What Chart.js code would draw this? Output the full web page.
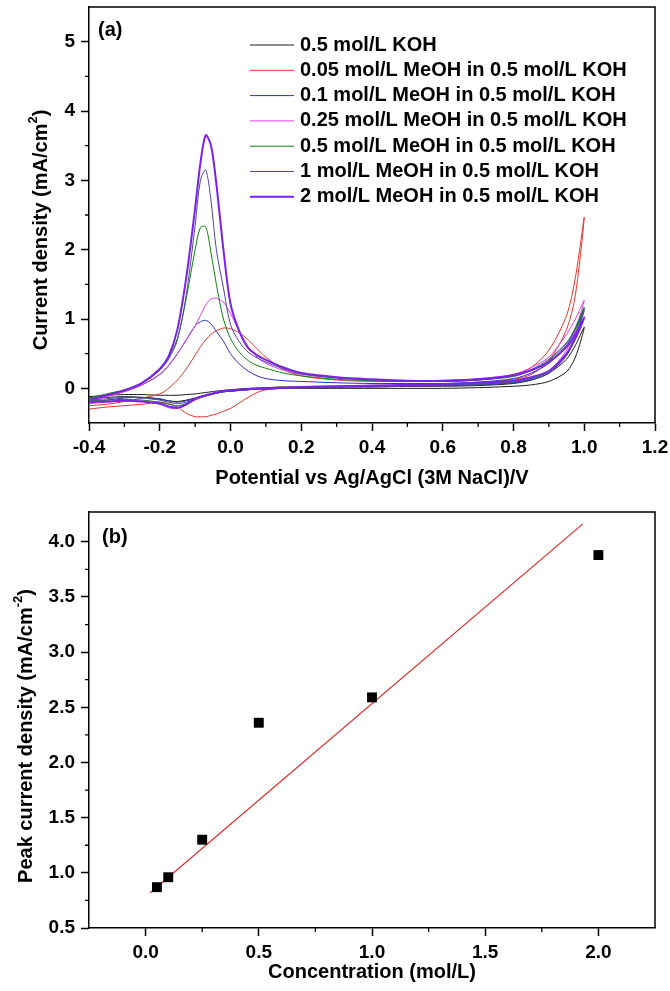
<!DOCTYPE html>
<html>
<head>
<meta charset="utf-8">
<script src="https://cdn.jsdelivr.net/npm/chart.js@4.4.0/dist/chart.umd.min.js"></script>
<style>
  html, body { margin: 0; padding: 0; background: #fff; }
  #wrap { width: 670px; height: 991px; }
  canvas { display: block; }
</style>
</head>
<body>
<div id="wrap">
  <canvas id="cv" width="670" height="491"></canvas>
  <canvas id="fit" width="670" height="500"></canvas>
</div>
<script>
// Cyclic voltammograms of MeOH in KOH (a) and peak current vs concentration (b)
const FONT = '"Liberation Sans", Arial, sans-serif';

// Potential grid (V vs Ag/AgCl) shared by every scan branch
const potential = [-0.4, -0.35, -0.3, -0.25, -0.2, -0.175, -0.15, -0.125, -0.1, -0.085, -0.07, -0.055,
    -0.04, -0.02, 0, 0.025, 0.05, 0.075, 0.1, 0.15, 0.2, 0.3, 0.4, 0.5, 0.6, 0.7, 0.8, 0.85, 0.9, 0.95, 0.975, 1.0];

const seriesLabels = [
    '0.5 mol/L KOH',
    '0.05 mol/L MeOH in 0.5 mol/L KOH',
    '0.1 mol/L MeOH in 0.5 mol/L KOH',
    '0.25 mol/L MeOH in 0.5 mol/L KOH',
    '0.5 mol/L MeOH in 0.5 mol/L KOH',
    '1 mol/L MeOH in 0.5 mol/L KOH',
    '2 mol/L MeOH in 0.5 mol/L KOH'
];
const seriesColors = ['#1a1a1a', '#e8322a', '#2b2bd0', '#e23be2', '#118011', '#4a4a96', '#7b22e8'];
const seriesWidths = [1, 1, 1, 1, 1, 1, 2];

// Current density (mA/cm2) on the branch carrying the oxidation peak
const upKOH  = [-0.12, -0.1, -0.09, -0.09, -0.1, -0.1, -0.1, -0.09, -0.08, -0.07, -0.06, -0.05, -0.04, -0.03, -0.02, -0.01, 0, 0, 0.01, 0.02, 0.02, 0.03, 0.03, 0.03, 0.03, 0.04, 0.07, 0.12, 0.22, 0.42, 0.62, 0.88];
const upM005 = [-0.25, -0.23, -0.19, -0.14, -0.08, 0.0, 0.12, 0.28, 0.48, 0.6, 0.7, 0.78, 0.83, 0.87, 0.86, 0.8, 0.7, 0.57, 0.45, 0.27, 0.18, 0.12, 0.1, 0.1, 0.1, 0.12, 0.2, 0.3, 0.55, 1.05, 1.6, 2.47];
const upM01  = [-0.17, -0.1, -0.04, 0.05, 0.2, 0.33, 0.5, 0.7, 0.9, 0.96, 0.98, 0.93, 0.82, 0.68, 0.5, 0.35, 0.25, 0.18, 0.14, 0.11, 0.1, 0.08, 0.07, 0.07, 0.07, 0.09, 0.14, 0.22, 0.36, 0.62, 0.85, 1.15];
const upM025 = [-0.2, -0.12, -0.05, 0.05, 0.2, 0.33, 0.5, 0.7, 0.9, 1.05, 1.2, 1.29, 1.3, 1.24, 1.08, 0.82, 0.6, 0.45, 0.36, 0.26, 0.2, 0.15, 0.12, 0.11, 0.11, 0.14, 0.2, 0.3, 0.45, 0.78, 1.0, 1.27];
const upM05  = [-0.14, -0.08, -0.02, 0.08, 0.28, 0.45, 0.72, 1.3, 2.0, 2.32, 2.33, 1.95, 1.5, 1.0, 0.72, 0.52, 0.4, 0.33, 0.29, 0.22, 0.18, 0.13, 0.11, 0.1, 0.1, 0.12, 0.17, 0.26, 0.4, 0.65, 0.88, 1.17];
const upM1   = [-0.16, -0.1, -0.03, 0.07, 0.26, 0.42, 0.7, 1.35, 2.35, 3.0, 3.15, 2.7, 2.0, 1.45, 0.92, 0.67, 0.52, 0.44, 0.38, 0.28, 0.21, 0.15, 0.12, 0.1, 0.1, 0.12, 0.18, 0.27, 0.42, 0.66, 0.86, 1.12];
const upM2   = [-0.17, -0.1, -0.03, 0.08, 0.28, 0.46, 0.85, 1.6, 2.6, 3.25, 3.65, 3.5, 2.95, 2.0, 1.22, 0.82, 0.58, 0.48, 0.41, 0.3, 0.22, 0.16, 0.13, 0.11, 0.11, 0.13, 0.19, 0.26, 0.38, 0.6, 0.78, 1.02];

// Current density (mA/cm2) on the returning branch
const lowKOH  = [-0.14, -0.13, -0.12, -0.13, -0.16, -0.18, -0.19, -0.17, -0.14, -0.12, -0.1, -0.08, -0.07, -0.05, -0.04, -0.03, -0.02, -0.01, -0.01, 0, 0, 0, 0, 0, 0, 0.01, 0.03, 0.05, 0.1, 0.24, 0.45, 0.88];
const lowM005 = [-0.3, -0.27, -0.25, -0.23, -0.2, -0.22, -0.27, -0.36, -0.41, -0.41, -0.41, -0.39, -0.37, -0.33, -0.29, -0.21, -0.13, -0.06, -0.02, 0, 0.01, 0.02, 0.02, 0.03, 0.04, 0.07, 0.13, 0.2, 0.4, 0.85, 1.35, 2.47];
const lowM01  = [-0.2, -0.17, -0.14, -0.13, -0.15, -0.18, -0.2, -0.18, -0.15, -0.13, -0.11, -0.09, -0.07, -0.05, -0.04, -0.03, -0.02, -0.01, -0.01, 0, 0.01, 0.02, 0.02, 0.03, 0.04, 0.05, 0.08, 0.12, 0.22, 0.48, 0.75, 1.15];
const lowM025 = [-0.22, -0.2, -0.18, -0.19, -0.23, -0.28, -0.29, -0.24, -0.17, -0.14, -0.11, -0.09, -0.07, -0.05, -0.04, -0.03, -0.02, -0.01, 0, 0.01, 0.01, 0.02, 0.03, 0.04, 0.05, 0.07, 0.1, 0.15, 0.25, 0.55, 0.85, 1.27];
const lowM05  = [-0.18, -0.17, -0.16, -0.17, -0.2, -0.23, -0.25, -0.22, -0.16, -0.13, -0.11, -0.09, -0.07, -0.05, -0.04, -0.03, -0.02, -0.01, 0, 0.01, 0.01, 0.02, 0.03, 0.04, 0.05, 0.06, 0.09, 0.14, 0.24, 0.5, 0.8, 1.17];
const lowM1   = [-0.17, -0.15, -0.13, -0.14, -0.17, -0.2, -0.22, -0.2, -0.15, -0.12, -0.1, -0.08, -0.07, -0.05, -0.04, -0.03, -0.02, -0.01, 0, 0.01, 0.01, 0.02, 0.03, 0.04, 0.05, 0.06, 0.09, 0.13, 0.22, 0.47, 0.75, 1.12];
const lowM2   = [-0.2, -0.19, -0.18, -0.19, -0.22, -0.26, -0.28, -0.23, -0.15, -0.12, -0.1, -0.08, -0.06, -0.04, -0.03, -0.02, -0.01, 0, 0, 0.01, 0.02, 0.03, 0.04, 0.05, 0.06, 0.08, 0.11, 0.16, 0.25, 0.5, 0.72, 1.02];

const upperBranches = [upKOH, upM005, upM01, upM025, upM05, upM1, upM2];
const lowerBranches = [lowKOH, lowM005, lowM01, lowM025, lowM05, lowM1, lowM2];

const cvTicksX = [-0.4, -0.2, 0, 0.2, 0.4, 0.6, 0.8, 1.0, 1.2];
const cvTicksY = [0, 1, 2, 3, 4, 5];

// Panel (b)
const concentration = [0.05, 0.1, 0.25, 0.5, 1, 2];
const peakCurrent = [0.87, 0.96, 1.30, 2.36, 2.59, 3.88];
const fitConcentration = [0.02, 1.93];
const fitCurrent = [0.82, 4.16];
const fitTicksX = [0, 0.5, 1, 1.5, 2];
const fitTicksY = [0.5, 1, 1.5, 2, 2.5, 3, 3.5, 4];

const mids = a => a.slice(1).map((v, i) => (v + a[i]) / 2);

// one closed loop: peak branch up to 1.0 V, then back along the other branch
function loop(up, low) {
    const pts = up.map((v, i) => ({ x: potential[i], y: v }));
    for (let i = low.length - 2; i >= 0; i--) pts.push({ x: potential[i], y: low[i] });
    return pts;
}

function makeAxis(ticks, min, max, fmt, size, pad, title) {
    return {
        type: 'linear',
        min: min,
        max: max,
        afterBuildTicks: s => { s.ticks = ticks.map(v => ({ value: v })); },
        afterFit: s => {
            s.paddingTop = s.paddingBottom = s.paddingLeft = s.paddingRight = 0;
            if (s.isHorizontal()) s.height = size; else s.width = size;
        },
        border: { display: true, color: '#000', width: 1.5 },
        grid: { drawOnChartArea: false, tickLength: 8, tickWidth: 1.5, tickColor: '#000' },
        ticks: {
            color: '#000', padding: pad, maxRotation: 0, autoSkip: false,
            font: { family: FONT, size: 19, weight: 'bold' },
            callback: fmt
        },
        title: title ? {
            display: true, text: title.text, color: '#000',
            font: { family: FONT, size: 20, weight: 'bold' },
            padding: { top: 0, bottom: title.pad }
        } : { display: false }
    };
}

// border on top/right, minor ticks, panel tag, rotated y title, legend
const framePlugin = {
    id: 'frame',
    afterDraw(chart, args, o) {
        const { ctx, chartArea: a, scales: { x, y } } = chart;
        ctx.save();
        ctx.strokeStyle = '#000';
        ctx.lineWidth = 1.5;
        ctx.beginPath();
        ctx.moveTo(a.left, a.top);
        ctx.lineTo(a.right, a.top);
        ctx.lineTo(a.right, a.bottom);
        ctx.stroke();

        ctx.lineWidth = 1.3;
        ctx.beginPath();
        o.minorX.forEach(v => {
            const px = x.getPixelForValue(v);
            ctx.moveTo(px, a.bottom); ctx.lineTo(px, a.bottom + 4);
        });
        o.minorY.forEach(v => {
            const py = y.getPixelForValue(v);
            ctx.moveTo(a.left, py); ctx.lineTo(a.left - 4, py);
        });
        ctx.stroke();

        ctx.fillStyle = '#000';
        ctx.textBaseline = 'middle';
        ctx.textAlign = 'left';
        ctx.font = 'bold 20px ' + FONT;
        ctx.fillText(o.panel, o.panelX, o.panelY);

        // y title with superscript
        ctx.save();
        ctx.translate(o.titleX, o.titleY);
        ctx.rotate(-Math.PI / 2);
        let total = 0;
        o.titleParts.forEach(p => { ctx.font = 'bold ' + p[1] + 'px ' + FONT; total += ctx.measureText(p[0]).width; });
        let cx = -total / 2;
        o.titleParts.forEach(p => {
            ctx.font = 'bold ' + p[1] + 'px ' + FONT;
            ctx.fillText(p[0], cx, p[2] || 0);
            cx += ctx.measureText(p[0]).width;
        });
        ctx.restore();

        if (o.legend) {
            ctx.font = 'bold 20px ' + FONT;
            chart.data.datasets.forEach((ds, i) => {
                const ly = o.legend.y + i * o.legend.step;
                ctx.strokeStyle = ds.borderColor;
                ctx.lineWidth = ds.borderWidth;
                ctx.beginPath();
                ctx.moveTo(o.legend.x, ly); ctx.lineTo(o.legend.x + 44, ly);
                ctx.stroke();
                ctx.fillText(ds.label, o.legend.x + 50, ly);
            });
        }
        ctx.restore();
    }
};

Chart.defaults.font.family = FONT;
Chart.defaults.color = '#000';

const cvDatasets = seriesLabels.map((lab, i) => ({
    label: lab,
    data: loop(upperBranches[i], lowerBranches[i]),
    showLine: true,
    borderColor: seriesColors[i],
    backgroundColor: seriesColors[i],
    borderWidth: seriesWidths[i],
    pointRadius: 0,
    tension: 0.3,
    order: seriesLabels.length - 1 - i
}));

new Chart(document.getElementById('cv'), {
    type: 'scatter',
    data: { datasets: cvDatasets },
    options: {
        responsive: false,
        animation: false,
        layout: { padding: { top: 7, right: 15, left: 0, bottom: 0 } },
        plugins: {
            legend: { display: false },
            tooltip: { enabled: false },
            frame: {
                minorX: mids(cvTicksX),
                minorY: mids(cvTicksY),
                panel: '(a)', panelX: 98, panelY: 30,
                titleX: 41, titleY: 230,
                titleParts: [['Current density (mA/cm', 20], ['2', 13, -8], [')', 20]],
                legend: { x: 250, y: 45, step: 25.3 }
            }
        },
        scales: {
            x: makeAxis(cvTicksX, -0.4, 1.2, v => v.toFixed(1), 68, 5, { text: 'Potential vs Ag/AgCl (3M NaCl)/V', pad: 1 }),
            y: makeAxis(cvTicksY, -0.5, 5.5, v => String(v), 89, 6, null)
        }
    },
    plugins: [framePlugin]
});

new Chart(document.getElementById('fit'), {
    type: 'scatter',
    data: {
        datasets: [
            {
                label: 'Peak current',
                data: concentration.map((c, i) => ({ x: c, y: peakCurrent[i] })),
                pointStyle: 'rect',
                pointRadius: 7,
                backgroundColor: '#000',
                borderWidth: 0,
                order: 0
            },
            {
                label: 'Linear fit',
                data: fitConcentration.map((c, i) => ({ x: c, y: fitCurrent[i] })),
                showLine: true,
                borderColor: '#e02a2a',
                borderWidth: 1.2,
                pointRadius: 0,
                order: 1
            }
        ]
    },
    options: {
        responsive: false,
        animation: false,
        layout: { padding: { top: 21, right: 15, left: 0, bottom: 0 } },
        plugins: {
            legend: { display: false },
            tooltip: { enabled: false },
            frame: {
                minorX: mids(fitTicksX),
                minorY: mids(fitTicksY),
                panel: '(b)', panelX: 102, panelY: 46,
                titleX: 26, titleY: 245,
                titleParts: [['Peak current density (mA/cm', 20], ['-2', 13, -8], [')', 20]],
                legend: null
            }
        },
        scales: {
            x: makeAxis(fitTicksX, -0.25, 2.25, v => v.toFixed(1), 63, 5, { text: 'Concentration (mol/L)', pad: 7 }),
            y: makeAxis(fitTicksY, 0.5, 4.27, v => v.toFixed(1), 89, 6, null)
        }
    },
    plugins: [framePlugin]
});
</script>
</body>
</html>
